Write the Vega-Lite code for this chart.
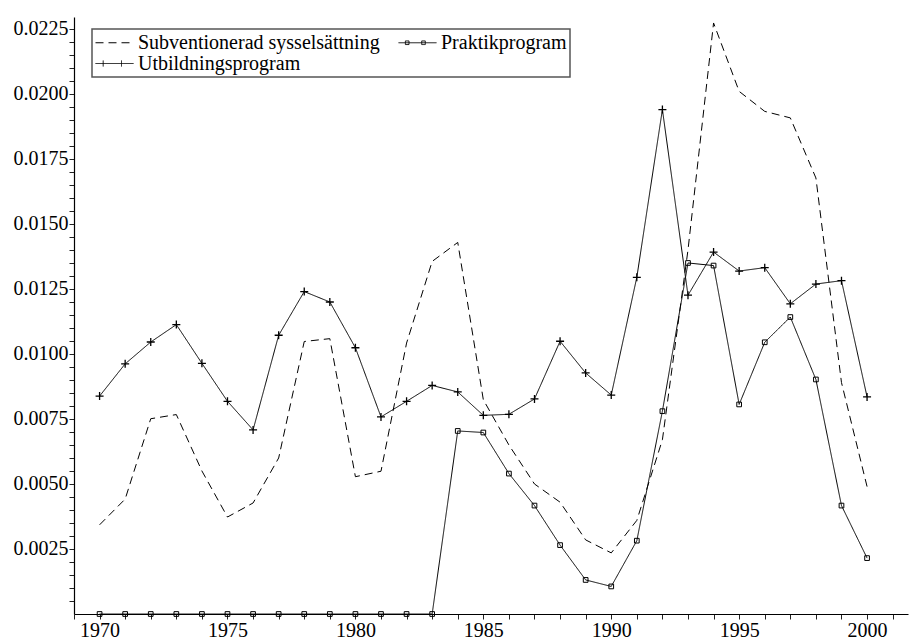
{
  "$schema": "https://vega.github.io/schema/vega-lite/v6.json",
  "width": 834,
  "height": 597,
  "autosize": {"type": "none"},
  "padding": {"left": 74, "top": 17, "right": 2, "bottom": 25},
  "background": "white",
  "config": {
    "view": {"stroke": null},
    "font": "Times New Roman, Liberation Serif, serif",
    "axis": {
      "labelFont": "Times New Roman, Liberation Serif, serif",
      "labelFontSize": 20,
      "labelColor": "black",
      "domainColor": "black",
      "domainWidth": 1.2,
      "grid": false,
      "title": null,
      "labelOverlap": false,
      "labelFlush": false
    }
  },
  "data": {
    "values": [
      {"year": 1970, "series": "Subventionerad sysselsättning", "value": 0.00343},
      {"year": 1971, "series": "Subventionerad sysselsättning", "value": 0.00442},
      {"year": 1972, "series": "Subventionerad sysselsättning", "value": 0.00751},
      {"year": 1973, "series": "Subventionerad sysselsättning", "value": 0.00767},
      {"year": 1974, "series": "Subventionerad sysselsättning", "value": 0.0055},
      {"year": 1975, "series": "Subventionerad sysselsättning", "value": 0.00373},
      {"year": 1976, "series": "Subventionerad sysselsättning", "value": 0.00427},
      {"year": 1977, "series": "Subventionerad sysselsättning", "value": 0.006},
      {"year": 1978, "series": "Subventionerad sysselsättning", "value": 0.01048},
      {"year": 1979, "series": "Subventionerad sysselsättning", "value": 0.01059},
      {"year": 1980, "series": "Subventionerad sysselsättning", "value": 0.00528},
      {"year": 1981, "series": "Subventionerad sysselsättning", "value": 0.00549},
      {"year": 1982, "series": "Subventionerad sysselsättning", "value": 0.01042},
      {"year": 1983, "series": "Subventionerad sysselsättning", "value": 0.01356},
      {"year": 1984, "series": "Subventionerad sysselsättning", "value": 0.01429},
      {"year": 1985, "series": "Subventionerad sysselsättning", "value": 0.00824},
      {"year": 1986, "series": "Subventionerad sysselsättning", "value": 0.0065},
      {"year": 1987, "series": "Subventionerad sysselsättning", "value": 0.005},
      {"year": 1988, "series": "Subventionerad sysselsättning", "value": 0.0043},
      {"year": 1989, "series": "Subventionerad sysselsättning", "value": 0.00285},
      {"year": 1990, "series": "Subventionerad sysselsättning", "value": 0.00235},
      {"year": 1991, "series": "Subventionerad sysselsättning", "value": 0.0036},
      {"year": 1992, "series": "Subventionerad sysselsättning", "value": 0.0067},
      {"year": 1993, "series": "Subventionerad sysselsättning", "value": 0.014},
      {"year": 1994, "series": "Subventionerad sysselsättning", "value": 0.02273},
      {"year": 1995, "series": "Subventionerad sysselsättning", "value": 0.0201},
      {"year": 1996, "series": "Subventionerad sysselsättning", "value": 0.01933},
      {"year": 1997, "series": "Subventionerad sysselsättning", "value": 0.01908},
      {"year": 1998, "series": "Subventionerad sysselsättning", "value": 0.01677},
      {"year": 1999, "series": "Subventionerad sysselsättning", "value": 0.0089},
      {"year": 2000, "series": "Subventionerad sysselsättning", "value": 0.0049},
      {"year": 1970, "series": "Praktikprogram", "value": 0},
      {"year": 1971, "series": "Praktikprogram", "value": 0},
      {"year": 1972, "series": "Praktikprogram", "value": 0},
      {"year": 1973, "series": "Praktikprogram", "value": 0},
      {"year": 1974, "series": "Praktikprogram", "value": 0},
      {"year": 1975, "series": "Praktikprogram", "value": 0},
      {"year": 1976, "series": "Praktikprogram", "value": 0},
      {"year": 1977, "series": "Praktikprogram", "value": 0},
      {"year": 1978, "series": "Praktikprogram", "value": 0},
      {"year": 1979, "series": "Praktikprogram", "value": 0},
      {"year": 1980, "series": "Praktikprogram", "value": 0},
      {"year": 1981, "series": "Praktikprogram", "value": 0},
      {"year": 1982, "series": "Praktikprogram", "value": 0},
      {"year": 1983, "series": "Praktikprogram", "value": 0},
      {"year": 1984, "series": "Praktikprogram", "value": 0.00704},
      {"year": 1985, "series": "Praktikprogram", "value": 0.00698},
      {"year": 1986, "series": "Praktikprogram", "value": 0.0054},
      {"year": 1987, "series": "Praktikprogram", "value": 0.00417},
      {"year": 1988, "series": "Praktikprogram", "value": 0.00265},
      {"year": 1989, "series": "Praktikprogram", "value": 0.00131},
      {"year": 1990, "series": "Praktikprogram", "value": 0.00106},
      {"year": 1991, "series": "Praktikprogram", "value": 0.00282},
      {"year": 1992, "series": "Praktikprogram", "value": 0.0078},
      {"year": 1993, "series": "Praktikprogram", "value": 0.0135},
      {"year": 1994, "series": "Praktikprogram", "value": 0.0134},
      {"year": 1995, "series": "Praktikprogram", "value": 0.00806},
      {"year": 1996, "series": "Praktikprogram", "value": 0.01045},
      {"year": 1997, "series": "Praktikprogram", "value": 0.01142},
      {"year": 1998, "series": "Praktikprogram", "value": 0.00902},
      {"year": 1999, "series": "Praktikprogram", "value": 0.00417},
      {"year": 2000, "series": "Praktikprogram", "value": 0.00215},
      {"year": 1970, "series": "Utbildningsprogram", "value": 0.00838},
      {"year": 1971, "series": "Utbildningsprogram", "value": 0.00962},
      {"year": 1972, "series": "Utbildningsprogram", "value": 0.01046},
      {"year": 1973, "series": "Utbildningsprogram", "value": 0.01113},
      {"year": 1974, "series": "Utbildningsprogram", "value": 0.00964},
      {"year": 1975, "series": "Utbildningsprogram", "value": 0.00818},
      {"year": 1976, "series": "Utbildningsprogram", "value": 0.00708},
      {"year": 1977, "series": "Utbildningsprogram", "value": 0.01072},
      {"year": 1978, "series": "Utbildningsprogram", "value": 0.0124},
      {"year": 1979, "series": "Utbildningsprogram", "value": 0.012},
      {"year": 1980, "series": "Utbildningsprogram", "value": 0.01024},
      {"year": 1981, "series": "Utbildningsprogram", "value": 0.00758},
      {"year": 1982, "series": "Utbildningsprogram", "value": 0.00818},
      {"year": 1983, "series": "Utbildningsprogram", "value": 0.00879},
      {"year": 1984, "series": "Utbildningsprogram", "value": 0.00854},
      {"year": 1985, "series": "Utbildningsprogram", "value": 0.00764},
      {"year": 1986, "series": "Utbildningsprogram", "value": 0.00768},
      {"year": 1987, "series": "Utbildningsprogram", "value": 0.00827},
      {"year": 1988, "series": "Utbildningsprogram", "value": 0.01049},
      {"year": 1989, "series": "Utbildningsprogram", "value": 0.00927},
      {"year": 1990, "series": "Utbildningsprogram", "value": 0.00842},
      {"year": 1991, "series": "Utbildningsprogram", "value": 0.01295},
      {"year": 1992, "series": "Utbildningsprogram", "value": 0.0194},
      {"year": 1993, "series": "Utbildningsprogram", "value": 0.01226},
      {"year": 1994, "series": "Utbildningsprogram", "value": 0.01392},
      {"year": 1995, "series": "Utbildningsprogram", "value": 0.01319},
      {"year": 1996, "series": "Utbildningsprogram", "value": 0.01332},
      {"year": 1997, "series": "Utbildningsprogram", "value": 0.01193},
      {"year": 1998, "series": "Utbildningsprogram", "value": 0.01269},
      {"year": 1999, "series": "Utbildningsprogram", "value": 0.01282},
      {"year": 2000, "series": "Utbildningsprogram", "value": 0.00835}
    ]
  },
  "encoding": {
    "x": {
      "field": "year",
      "type": "quantitative",
      "scale": {"domain": [1969, 2001.6], "nice": false, "zero": false},
      "axis": {
        "values": [1969, 1970, 1971, 1972, 1973, 1974, 1975, 1976, 1977, 1978, 1979, 1980, 1981, 1982, 1983, 1984, 1985, 1986, 1987, 1988, 1989, 1990, 1991, 1992, 1993, 1994, 1995, 1996, 1997, 1998, 1999, 2000, 2001],
        "labelExpr": "datum.value % 5 == 0 ? format(datum.value, 'd') : ''",
        "ticks": true,
        "tickSize": 5,
        "tickWidth": 1,
        "tickColor": "#222222",
        "labelPadding": 1
      }
    },
    "y": {
      "field": "value",
      "type": "quantitative",
      "scale": {"domain": [0, 0.02296], "nice": false},
      "axis": {
        "values": [0.0005, 0.001, 0.0015, 0.002, 0.0025, 0.003, 0.0035, 0.004, 0.0045, 0.005, 0.0055, 0.006, 0.0065, 0.007, 0.0075, 0.008, 0.0085, 0.009, 0.0095, 0.01, 0.0105, 0.011, 0.0115, 0.012, 0.0125, 0.013, 0.0135, 0.014, 0.0145, 0.015, 0.0155, 0.016, 0.0165, 0.017, 0.0175, 0.018, 0.0185, 0.019, 0.0195, 0.02, 0.0205, 0.021, 0.0215, 0.022, 0.0225],
        "labelExpr": "round(datum.value * 10000) % 25 == 0 ? format(datum.value, '.4f') : ''",
        "ticks": true,
        "tickSize": 5,
        "tickWidth": 1,
        "tickColor": "#222222",
        "labelPadding": 1
      }
    }
  },
  "layer": [
    {
      "mark": {"type": "line", "strokeWidth": 1},
      "encoding": {
        "color": {
          "field": "series",
          "type": "nominal",
          "scale": {"domain": ["Subventionerad sysselsättning", "Utbildningsprogram", "Praktikprogram"], "range": ["black", "black", "black"]},
          "legend": {
            "title": null,
            "orient": "none",
            "legendX": 18,
            "legendY": 12,
            "columns": 2,
            "columnPadding": 16,
            "rowPadding": 0,
            "padding": 3,
            "strokeColor": "#555",
            "fillColor": "white",
            "symbolSize": 400,
            "symbolStrokeWidth": 1,
            "labelOffset": 22,
            "labelFont": "Times New Roman, Liberation Serif, serif",
            "labelFontSize": 20,
            "labelColor": "black",
            "labelLimit": 500,
            "encode": {
              "legend": {"update": {"strokeWidth": {"value": 1.5}}},
              "symbols": {
                "update": {
                  "shape": [
                    {"test": "datum.value === 'Praktikprogram'", "value": "M-1,0H2.8M-0.31,-0.18H0.05V0.18H-0.31ZM1.32,-0.18H1.68V0.18H1.32Z"},
                    {"test": "datum.value === 'Utbildningsprogram'", "value": "M-1,0H2.8M-0.23,-0.3V0.3M1.6,-0.3V0.3"},
                    {"value": "M-1,0H2.8"}
                  ],
                  "fill": {"value": "transparent"},
                  "stroke": {"value": "black"}
                }
              }
            }
          }
        },
        "strokeDash": {
          "field": "series",
          "type": "nominal",
          "scale": {"domain": ["Subventionerad sysselsättning", "Utbildningsprogram", "Praktikprogram"], "range": [[8, 5], [1, 0], [1, 0]]},
          "legend": null
        }
      }
    },
    {
      "transform": [{"filter": "datum.series === 'Praktikprogram'"}],
      "mark": {"type": "point", "shape": "square", "size": 22, "filled": false, "stroke": "black", "strokeWidth": 1, "opacity": 1}
    },
    {
      "transform": [{"filter": "datum.series === 'Utbildningsprogram'"}],
      "mark": {"type": "point", "shape": "M-1,0H1M0,-1V1", "size": 64, "filled": false, "stroke": "black", "strokeWidth": 1.3, "opacity": 1}
    }
  ]
}
